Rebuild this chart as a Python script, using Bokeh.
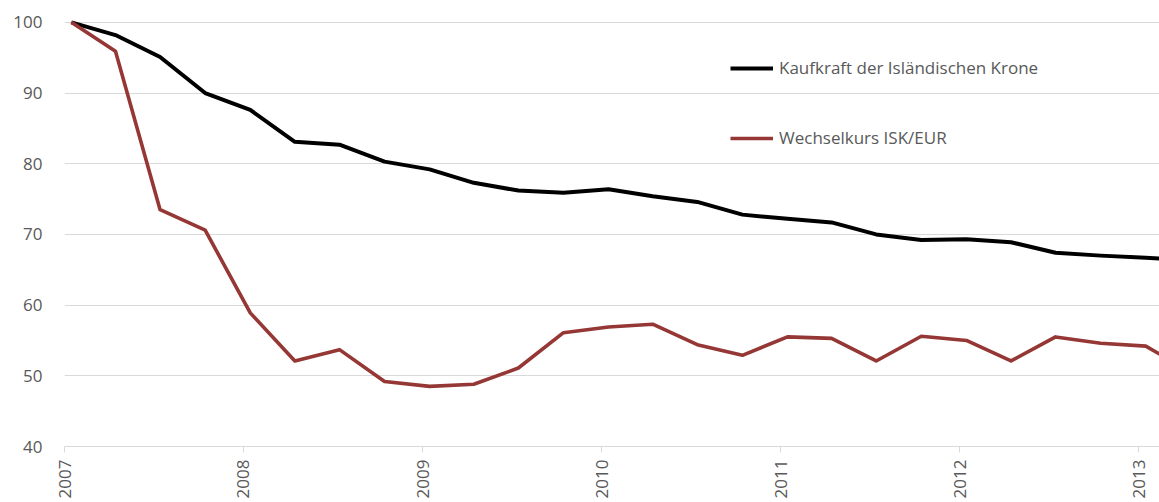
import math
import pandas as pd
from bokeh.plotting import figure
from bokeh.models import (Range1d, FixedTicker, DatetimeTickFormatter, Legend, LegendItem)
from bokeh.embed import file_html
from bokeh.resources import INLINE

# ---- data (quarterly, index 2007 Q1 = 100) ----
dates = [
    "2007-01-15", "2007-04-15", "2007-07-15", "2007-10-15",
    "2008-01-15", "2008-04-15", "2008-07-15", "2008-10-15",
    "2009-01-15", "2009-04-15", "2009-07-15", "2009-10-15",
    "2010-01-15", "2010-04-15", "2010-07-15", "2010-10-15",
    "2011-01-15", "2011-04-15", "2011-07-15", "2011-10-15",
    "2012-01-15", "2012-04-15", "2012-07-15", "2012-10-15",
    "2013-01-15", "2013-04-15",
]
kaufkraft = [
    100.0, 98.2, 95.1, 90.0,
    87.6, 83.1, 82.7, 80.3,
    79.2, 77.3, 76.2, 75.9,
    76.4, 75.4, 74.6, 72.8,
    72.2, 71.7, 70.0, 69.2,
    69.3, 68.9, 67.4, 67.0,
    66.7, 66.4,
]
wechselkurs = [
    100.0, 95.9, 73.5, 70.6,
    58.9, 52.1, 53.7, 49.2,
    48.5, 48.8, 51.1, 56.1,
    56.9, 57.3, 54.4, 52.9,
    55.5, 55.3, 52.1, 55.6,
    55.0, 52.1, 55.5, 54.6,
    54.2, 50.6,
]
year_ticks = ["2007", "2008", "2009", "2010", "2011", "2012", "2013"]
y_ticks = [40, 50, 60, 70, 80, 90, 100]
series_names = ["Kaufkraft der Isländischen Krone", "Wechselkurs ISK/EUR"]

x = pd.to_datetime(dates)
tick_ms = [pd.Timestamp(y + "-01-01").value // 10**6 for y in year_ticks]

FONT = "Open Sans"
TXT = "#595959"
GRID = "#d9d9d9"
BLACK = "#000000"
RED = "#953735"

p = figure(
    width=1159, height=502,
    x_axis_type="datetime",
    x_range=Range1d(pd.Timestamp("2007-01-01"), pd.Timestamp("2013-02-12")),
    y_range=Range1d(40, 100.4),
    output_backend="svg", toolbar_location=None,
    min_border_left=64, min_border_right=0, min_border_top=19, min_border_bottom=56,
)
p.outline_line_color = None
p.background_fill_color = "white"

r1 = p.line(x, kaufkraft, line_color=BLACK, line_width=4, line_join="round")
r2 = p.line(x, wechselkurs, line_color=RED, line_width=3.6, line_join="round")

# x axis
xa = p.xaxis[0]
xa.ticker = FixedTicker(ticks=tick_ms)
xa.formatter = DatetimeTickFormatter(
    milliseconds="%Y", seconds="%Y", minsec="%Y", minutes="%Y", hourmin="%Y",
    hours="%Y", days="%Y", months="%Y", years="%Y")
xa.major_label_orientation = math.pi / 2
xa.axis_line_color = GRID
xa.major_tick_line_color = GRID
xa.major_tick_out = 6
xa.major_tick_in = 0
xa.minor_tick_line_color = None
xa.major_label_standoff = 7
xa.major_label_text_font = FONT
xa.major_label_text_font_size = "17px"
xa.major_label_text_color = TXT

# y axis
ya = p.yaxis[0]
ya.ticker = FixedTicker(ticks=y_ticks)
ya.axis_line_color = None
ya.major_tick_line_color = None
ya.minor_tick_line_color = None
ya.major_tick_out = 0
ya.major_tick_in = 0
ya.major_label_standoff = 22
ya.major_label_text_font = FONT
ya.major_label_text_font_size = "17px"
ya.major_label_text_color = TXT

p.xgrid.grid_line_color = None
p.ygrid.grid_line_color = GRID
p.ygrid.grid_line_width = 1
p.ygrid.ticker = FixedTicker(ticks=y_ticks)

legend = Legend(
    items=[LegendItem(label=series_names[0], renderers=[r1]),
           LegendItem(label=series_names[1], renderers=[r2])],
    location=(666, 297),
    orientation="vertical",
    padding=0, margin=0, spacing=47,
    glyph_width=43, glyph_height=20, label_standoff=6,
    label_text_font=FONT, label_text_font_size="17px", label_text_color=TXT,
    label_height=20,
    border_line_color=None, background_fill_alpha=0,
)
p.add_layout(legend, "center")

open("out.html", "w").write(file_html(p, INLINE))
